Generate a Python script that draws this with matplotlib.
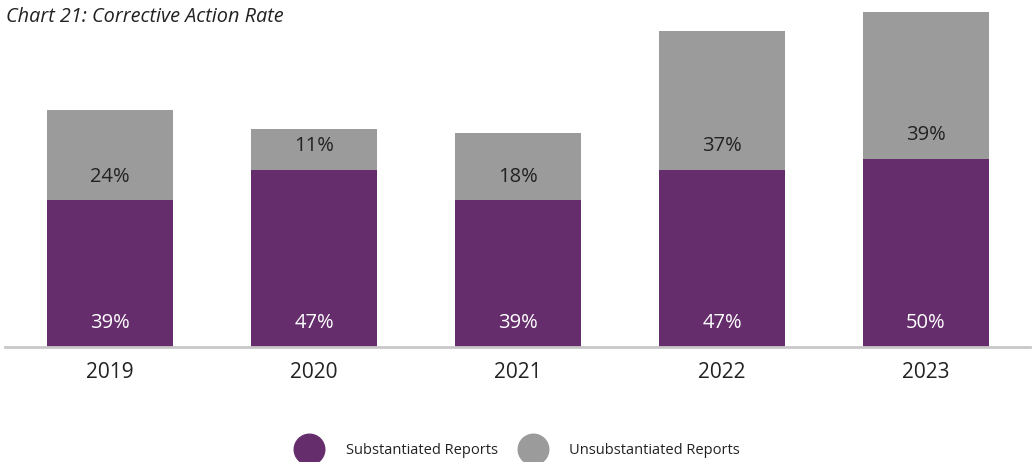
import numpy as np
import matplotlib.pyplot as plt
from matplotlib.lines import Line2D

plt.rcParams['font.family'] = ['Open Sans', 'DejaVu Sans']

years = ['2019', '2020', '2021', '2022', '2023']
substantiated = [39, 47, 39, 47, 50]
unsubstantiated = [24, 11, 18, 37, 39]

purple = '#652d6c'
grey = '#9b9b9b'

fig = plt.figure(figsize=(10.35, 4.62), dpi=100)
ax = fig.add_axes([5/1035, 1 - 347/462, 1025/1035, 336/462])

x = np.arange(len(years))
sub = np.array(substantiated)
uns = np.array(unsubstantiated)
ax.bar(x, sub, width=0.62, color=purple)
ax.bar(x, uns, width=0.62, bottom=sub, color=grey)

for i in x:
    ax.text(i, 6.3, f'{sub[i]}%', ha='center', va='center', color='white', fontsize=14.5)
    ax.text(i, sub[i] + 6.3, f'{uns[i]}%', ha='center', va='center', color='#222222', fontsize=14.5)

ax.set_xlim(-0.515, 4.51)
ax.set_ylim(0, 89.3)
ax.set_xticks(x)
ax.set_xticklabels(years, fontsize=15, color='#222222')
ax.tick_params(axis='x', length=0, pad=11)
ax.set_yticks([])
for s in ['top', 'right', 'left']:
    ax.spines[s].set_visible(False)
ax.spines['bottom'].set_color('#c8c8c8')
ax.spines['bottom'].set_linewidth(2)

fig.text(6/1035, 1 - 17/462, 'Chart 21: Corrective Action Rate', fontsize=14.3,
         style='italic', va='center', color='#222222')

handles = [Line2D([], [], ls='none', marker='o', markersize=22, color=purple),
           Line2D([], [], ls='none', marker='o', markersize=22, color=grey)]
fig.legend(handles, ['Substantiated Reports', 'Unsubstantiated Reports'],
           loc='center', bbox_to_anchor=(0.5, 1 - 451/462), ncol=2, frameon=False,
           fontsize=10.5, handletextpad=1.5, columnspacing=1.4, labelcolor='#222222')

fig.savefig('out.png', dpi=100)
